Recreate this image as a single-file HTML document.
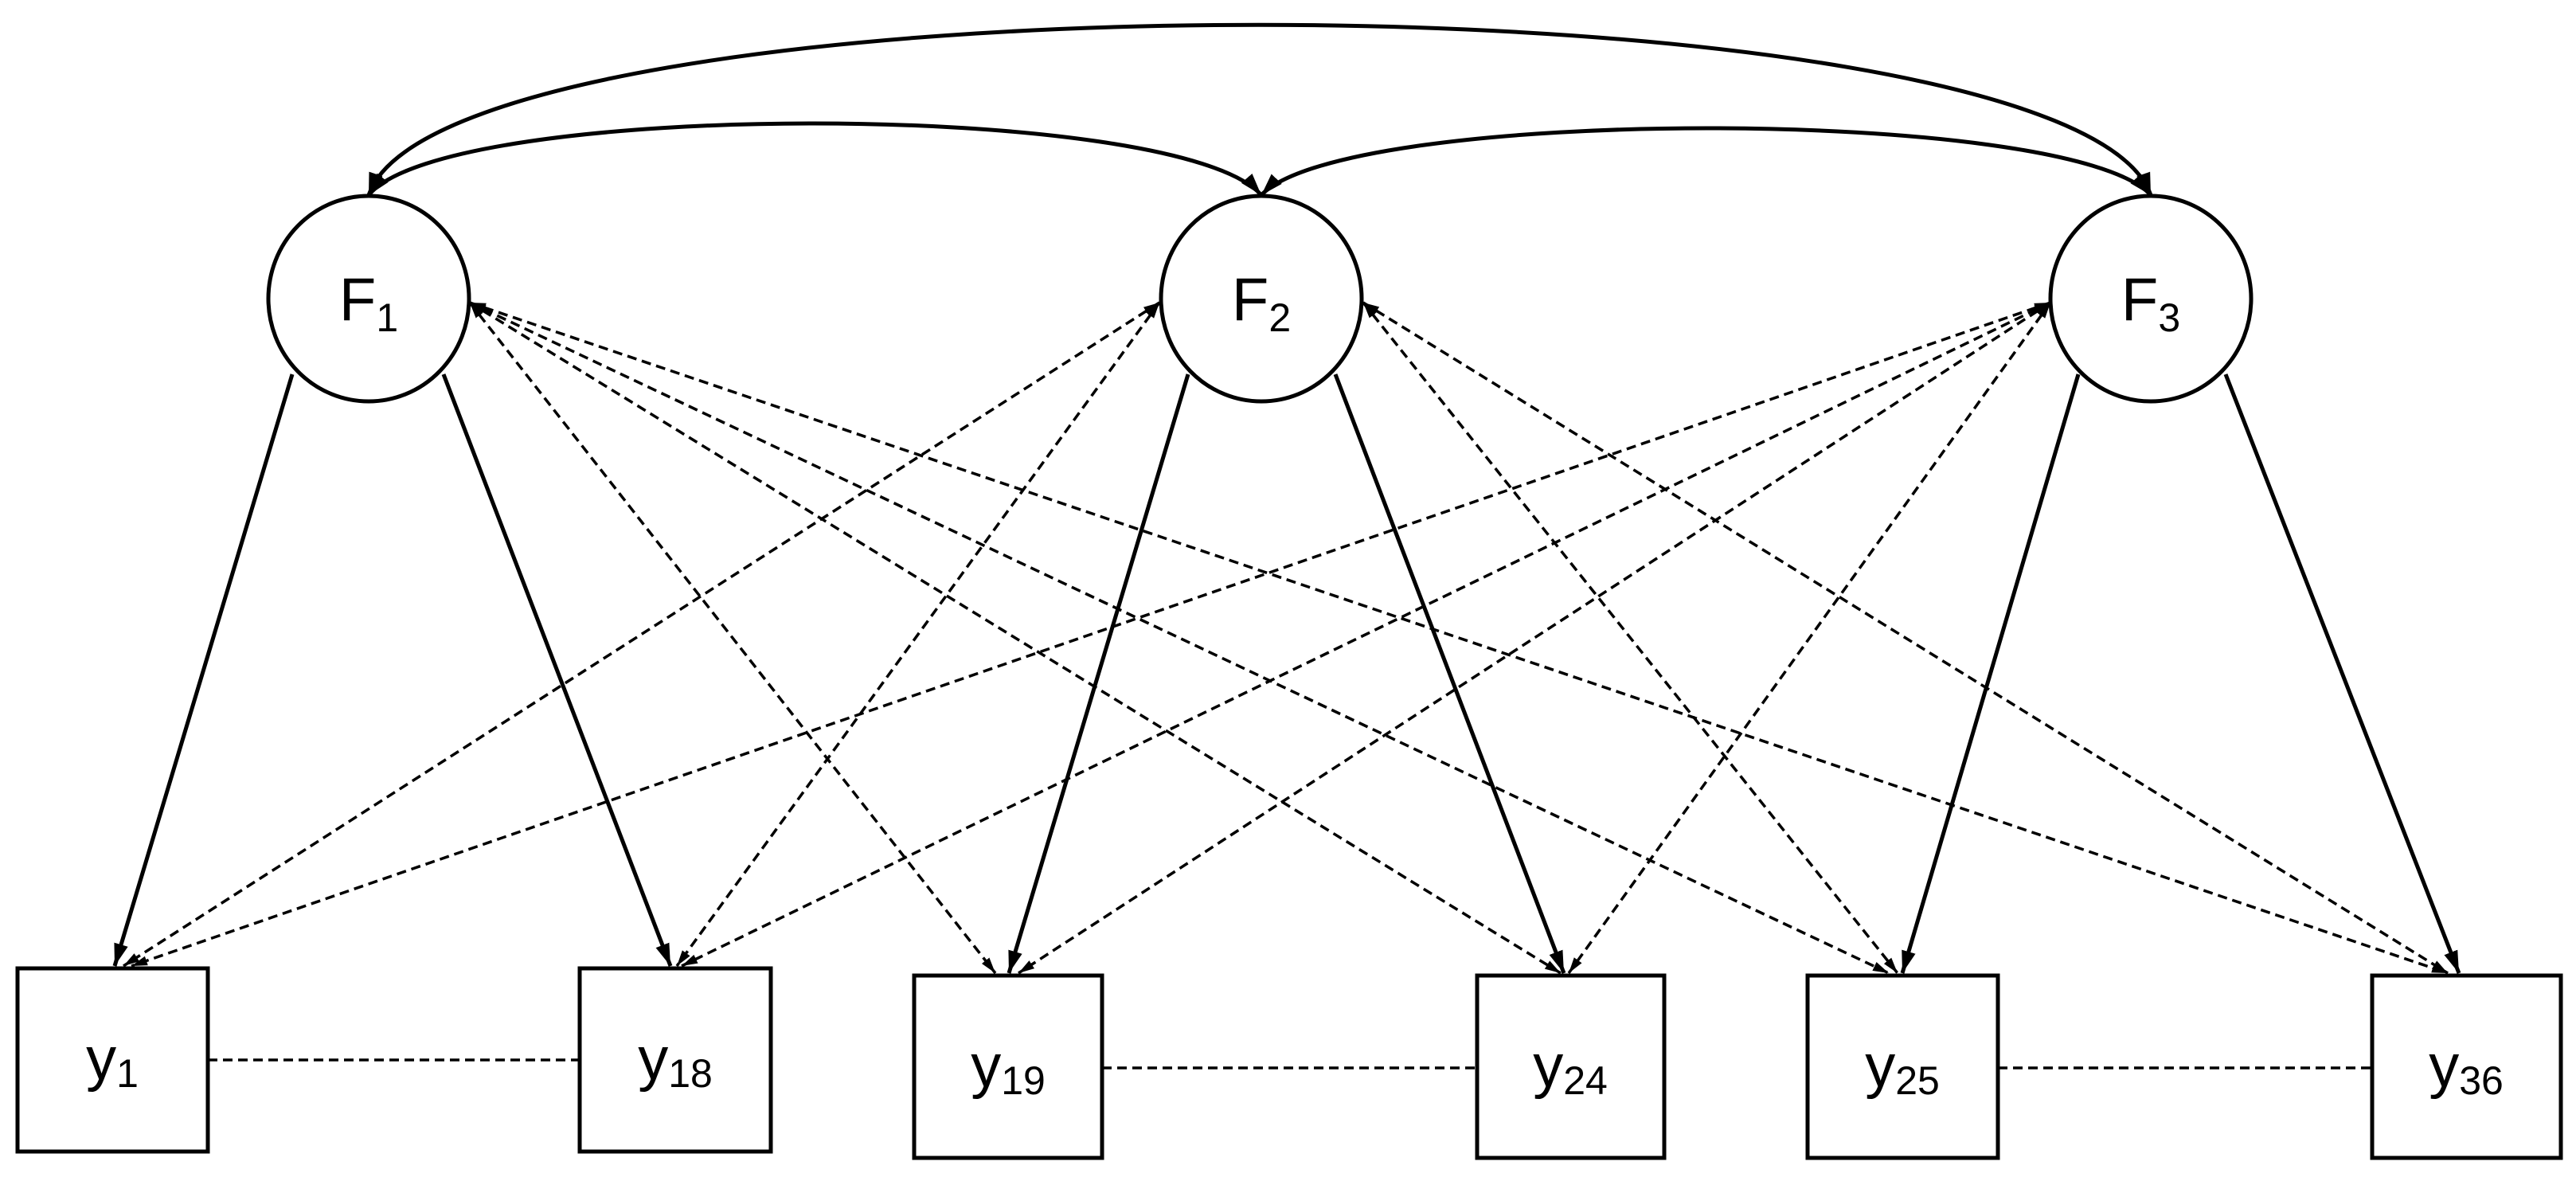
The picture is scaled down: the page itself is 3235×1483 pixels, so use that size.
<!DOCTYPE html>
<html><head><meta charset="utf-8"><style>
html,body{margin:0;padding:0;background:#fff}
svg{display:block}
text{font-family:"Liberation Sans",sans-serif;fill:#000}
</style></head><body>
<svg width="3235" height="1483" viewBox="0 0 3235 1483" xmlns="http://www.w3.org/2000/svg">
<defs>
<marker id="a" markerUnits="userSpaceOnUse" markerWidth="30" markerHeight="20" refX="28" refY="10" orient="auto-start-reverse"><path d="M0,1 L28,10 L0,19 Z" fill="#000"/></marker>
<marker id="d" markerUnits="userSpaceOnUse" markerWidth="22" markerHeight="14" refX="20" refY="7" orient="auto-start-reverse"><path d="M0,1 L20,7 L0,13 Z" fill="#000"/></marker>
</defs>
<g fill="none" stroke="#000">
<g stroke-width="5" marker-start="url(#a)" marker-end="url(#a)">
<path d="M463,245 C560,-40 2600,-40 2701,245"/>
<path d="M463,245 C560,125 1480,125 1584,245"/>
<path d="M1584,245 C1690,133 2600,133 2701,245"/>
</g>
<g stroke-width="5" marker-end="url(#a)">
<line x1="367" y1="470" x2="144" y2="1213"/>
<line x1="557" y1="470" x2="842" y2="1213"/>
<line x1="1492" y1="470" x2="1267" y2="1222"/>
<line x1="1677" y1="470" x2="1964" y2="1222"/>
<line x1="2610" y1="470" x2="2389" y2="1222"/>
<line x1="2795" y1="470" x2="3088" y2="1222"/>
</g>
<g stroke-width="3.5" stroke-dasharray="12,7" marker-end="url(#d)" marker-start="url(#d)">
<line x1="590" y1="380" x2="1250" y2="1222"/>
<line x1="590" y1="380" x2="1960" y2="1222"/>
<line x1="590" y1="380" x2="2372" y2="1222"/>
<line x1="590" y1="380" x2="3074" y2="1222"/>
<line x1="1456" y1="380" x2="155" y2="1213"/>
<line x1="1456" y1="380" x2="850" y2="1213"/>
<line x1="1712" y1="380" x2="2383" y2="1222"/>
<line x1="1712" y1="380" x2="3074" y2="1222"/>
<line x1="2575" y1="380" x2="165" y2="1213"/>
<line x1="2575" y1="380" x2="856" y2="1213"/>
<line x1="2575" y1="380" x2="1279" y2="1222"/>
<line x1="2575" y1="380" x2="1970" y2="1222"/>
</g>
<g stroke-width="3.5" stroke-dasharray="12,7">
<line x1="261" y1="1331" x2="726" y2="1331"/>
<line x1="1384" y1="1341" x2="1853" y2="1341"/>
<line x1="2509" y1="1341" x2="2977" y2="1341"/>
</g>
<g stroke-width="5" fill="#fff">
<ellipse cx="463" cy="375" rx="126" ry="129"/>
<ellipse cx="1584" cy="375" rx="126" ry="129"/>
<ellipse cx="2701" cy="375" rx="126" ry="129"/>
<rect x="22" y="1216" width="239" height="230"/>
<rect x="728" y="1216" width="240" height="230"/>
<rect x="1148" y="1225" width="236" height="229"/>
<rect x="1855" y="1225" width="235" height="229"/>
<rect x="2270" y="1225" width="239" height="229"/>
<rect x="2979" y="1225" width="237" height="229"/>
</g>
</g>
<g font-size="76" text-anchor="middle">
<text x="463" y="402">F<tspan font-size="50" dy="14">1</tspan></text>
<text x="1584" y="402">F<tspan font-size="50" dy="14">2</tspan></text>
<text x="2701" y="402">F<tspan font-size="50" dy="14">3</tspan></text>
<text x="141" y="1355">y<tspan font-size="50" dy="10">1</tspan></text>
<text x="848" y="1355">y<tspan font-size="50" dy="10">18</tspan></text>
<text x="1266" y="1364">y<tspan font-size="50" dy="10">19</tspan></text>
<text x="1972" y="1364">y<tspan font-size="50" dy="10">24</tspan></text>
<text x="2389" y="1364">y<tspan font-size="50" dy="10">25</tspan></text>
<text x="3097" y="1364">y<tspan font-size="50" dy="10">36</tspan></text>
</g>
</svg>
</body></html>
